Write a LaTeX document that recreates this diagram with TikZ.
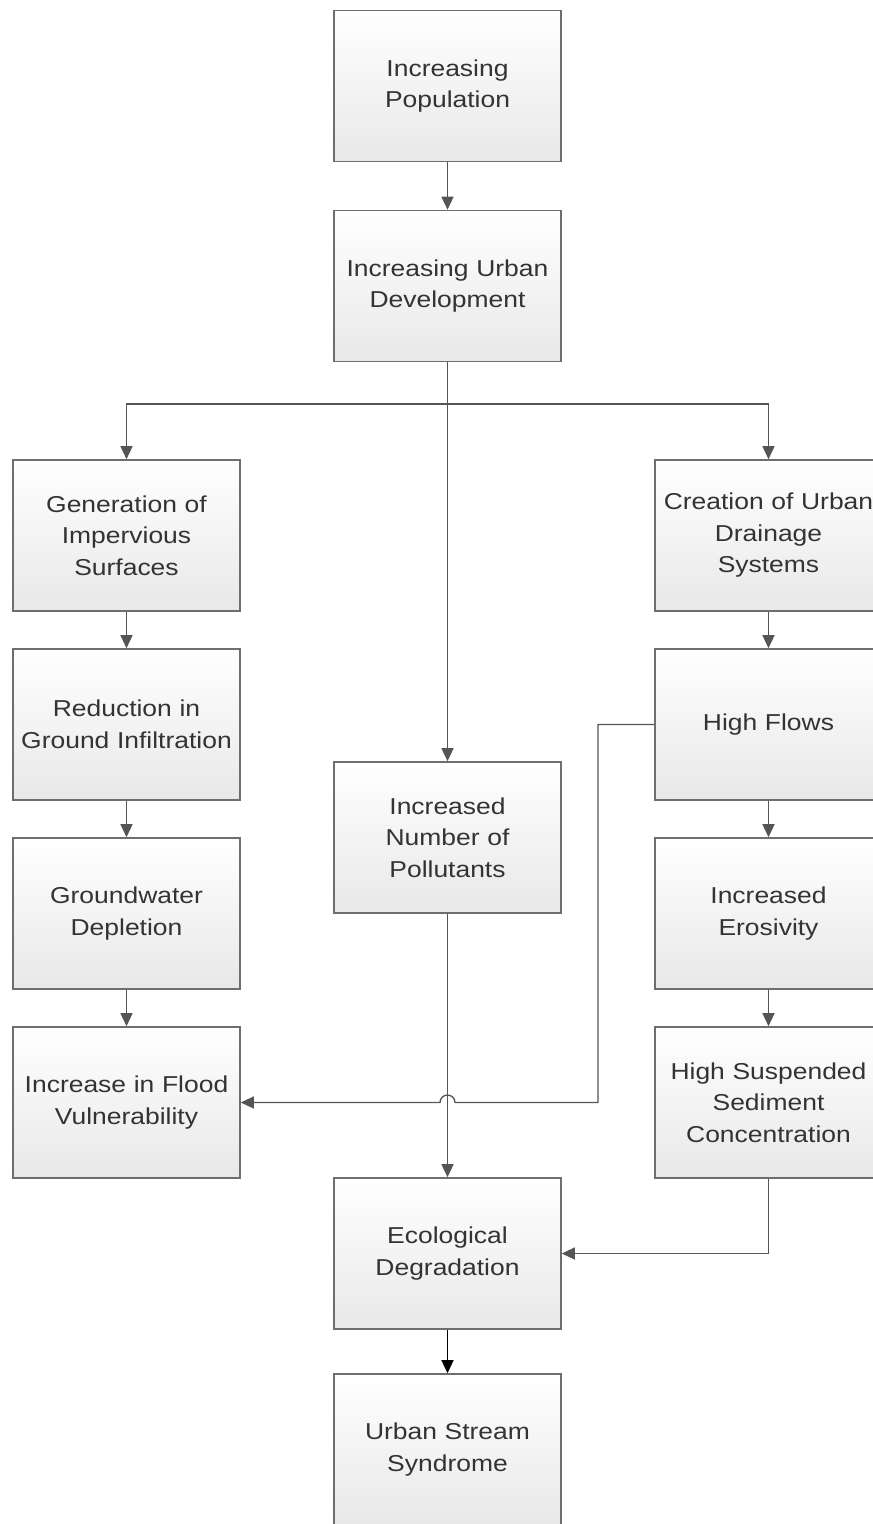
\documentclass[tikz,border=0pt]{standalone}
\usepackage{fontspec}
\setmainfont{Liberation Sans}[FakeStretch=1.15]
\usetikzlibrary{arrows.meta}
\definecolor{boxline}{HTML}{6E6E6E}
\definecolor{conn}{HTML}{555555}
\definecolor{txt}{HTML}{333333}
\begin{document}
\begin{tikzpicture}[x=1pt,y=-1pt,
  box/.style={draw=boxline, line width=1.6pt, top color=white, bottom color=black!9,
    minimum width=227pt, minimum height=151pt, inner sep=0pt, text width=225pt, align=center,
    text=txt, font=\fontsize{23}{31.5}\selectfont},
  conn/.style={draw=conn, line width=1.3pt, -{Triangle[length=13pt,width=12pt]}},
  plain/.style={draw=conn, line width=1.3pt}]
\useasboundingbox (0,0) rectangle (873,1524);
\clip (0,0) rectangle (873,1524);
\node[box] (pop) at (447.5,86) {Increasing\\Population};
\node[box] (urb) at (447.5,286) {Increasing Urban\\Development};
\node[box] (gen) at (126.5,535.5) {Generation of\\Impervious\\Surfaces};
\node[box] (red) at (126.5,724.5) {Reduction in\\Ground Infiltration};
\node[box] (gw) at (126.5,913.5) {Groundwater\\Depletion};
\node[box] (fl) at (126.5,1102.5) {Increase in Flood\\Vulnerability};
\node[box] (cre) at (768.5,535.5) {Creation of Urban\\Drainage\\Systems};
\node[box] (hf) at (768.5,724.5) {High Flows};
\node[box] (ero) at (768.5,913.5) {Increased\\Erosivity};
\node[box] (hss) at (768.5,1102.5) {High Suspended\\Sediment\\Concentration};
\node[box] (pol) at (447.5,837.5) {Increased\\Number of\\Pollutants};
\node[box] (eco) at (447.5,1253.5) {Ecological\\Degradation};
\node[box] (uss) at (447.5,1449.5) {Urban Stream\\Syndrome};
\coordinate (br) at (447.5,404);
\draw[conn] (pop) -- (urb);
\draw[conn] (urb) -- (pol);
\draw[conn] (br) -| (gen.north);
\draw[conn] (br) -| (cre.north);
\draw[conn] (gen) -- (red);
\draw[conn] (red) -- (gw);
\draw[conn] (gw) -- (fl);
\draw[conn] (cre) -- (hf);
\draw[conn] (hf) -- (ero);
\draw[conn] (ero) -- (hss);
\draw[conn] (pol) -- (eco);
\draw[conn] (hss.south) |- (eco.east);
\draw[conn] (hf.west) -- (598,724.5) -- (598,1102.5) -- (455,1102.5)
  arc[start angle=0,end angle=180,radius=7.5pt] -- (fl.east);
\draw[line width=1.3pt, draw=black, -{Triangle[length=13pt,width=12pt]}] (eco) -- (uss);
\end{tikzpicture}
\end{document}
